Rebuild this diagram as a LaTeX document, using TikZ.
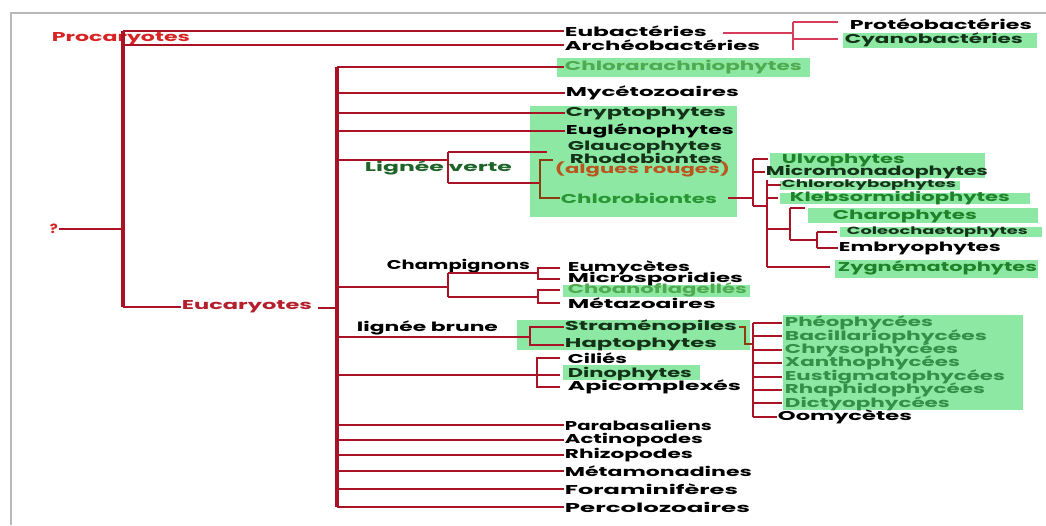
\documentclass[tikz,border=0pt]{standalone}
\usepackage{fontspec}
\setmainfont{Poppins}
\usepackage{graphicx}
\definecolor{lred}{RGB}{170,18,38}
\definecolor{lpink}{RGB}{215,60,90}
\definecolor{pred}{RGB}{215,35,35}
\definecolor{ered}{RGB}{180,30,45}
\definecolor{lgreen}{RGB}{140,232,162}
\definecolor{gtexta}{RGB}{80,170,80}
\definecolor{gtextb}{RGB}{40,150,50}
\definecolor{gtextc}{RGB}{30,130,40}
\definecolor{gtextd}{RGB}{50,145,70}
\definecolor{dgreen}{RGB}{30,100,40}
\definecolor{dark}{RGB}{20,50,25}
\definecolor{brn}{RGB}{140,60,15}
\definecolor{algc}{RGB}{185,85,30}
\newdimen\pxu \pxu=0.75pt
\newcommand\sw[2]{\resizebox{#1\pxu}{\height}{#2}}
\begin{document}
\begin{tikzpicture}[x=0.75pt,y=-0.75pt,
  lab/.style={inner sep=0.5pt, anchor=west, font=\fontsize{9.6}{10}\selectfont\bfseries, text=black},
  smalllab/.style={font=\fontsize{7.8}{9}\selectfont\bfseries},
  ln/.style={draw=lred, line width=1.6pt},
  vb/.style={draw=lred, line width=2.3pt},
  pk/.style={draw=lpink, line width=1.2pt},
  bl/.style={draw=brn, line width=1.6pt},
  gbox/.style={fill=lgreen}]
\useasboundingbox (0,0) rectangle (1046,525);
\fill[white] (0,0) rectangle (1046,525);
\draw[gray!55, line width=1.2pt] (11,525) -- (11,13) -- (1046,13);

% green boxes
\fill[gbox] (843,33) rectangle (1037,48);
\fill[gbox] (557,58) rectangle (810,77);
\fill[gbox] (530,106) rectangle (737,217);
\fill[gbox] (770,153) rectangle (985,178);
\fill[gbox] (780,181) rectangle (960,190);
\fill[gbox] (780,193) rectangle (1030,204);
\fill[gbox] (808,208) rectangle (1038,223);
\fill[gbox] (840,227) rectangle (1042,237);
\fill[gbox] (835,260) rectangle (1038,278);
\fill[gbox] (563,285) rectangle (750,297);
\fill[gbox] (517,320) rectangle (750,350);
\fill[gbox] (563,365) rectangle (700,380);
\fill[gbox] (783,315) rectangle (1023,410);

% labels
\node[lab,text=pred] (pro) at (51,39) {\sw{138}{Procaryotes}};
\node[lab] (eub) at (564,31) {\sw{142}{Eubactéries}};
\node[lab] (arc) at (564,45) {\sw{195}{Archéobactéries}};
\node[lab] (prot) at (849,24) {\sw{182}{Protéobactéries}};
\node[lab,text=dark] (cya) at (844,40) {\sw{178}{Cyanobactéries}};
\node[lab,text=pred] (q) at (49,229) {\sw{8}{?}};
\node[lab,text=ered] (euc) at (181,307) {\sw{130}{Eucaryotes}};
\node[lab,text=gtexta] (chl) at (564,67) {\sw{237}{Chlorarachniophytes}};
\node[lab] (myc) at (565,93) {\sw{173}{Mycétozoaires}};
\node[lab,text=dark] (cry) at (565,113) {\sw{160}{Cryptophytes}};
\node[lab] (eug) at (565,131) {\sw{168}{Euglénophytes}};
\node[lab,text=dark] (gla) at (567,147) {\sw{154}{Glaucophytes}};
\node[lab,text=dark] (rho) at (569,158) {\sw{153}{Rhodobiontes}};
\node[lab,text=algc] (alg) at (554,169) {\sw{175}{(algues rouges)}};
\node[lab,text=gtextb] (chb) at (560,198) {\sw{156}{Chlorobiontes}};
\node[lab,text=dgreen] (lv) at (364,168) {\sw{147}{Lignée verte}};
\node[lab,text=gtextc] (ulv) at (781,160) {\sw{123}{Ulvophytes}};
\node[lab,text=dark] (mic) at (765,172) {\sw{222}{Micromonadophytes}};
\node[lab,smalllab,text=dark] (chk) at (781,185) {\sw{174}{Chlorokybophytes}};
\node[lab,text=gtextc] (kle) at (789,198) {\sw{220}{Klebsormidiophytes}};
\node[lab,text=gtextc] (cha) at (832,216) {\sw{144}{Charophytes}};
\node[lab,smalllab,text=dark] (col) at (846,232) {\sw{181}{Coleochaetophytes}};
\node[lab] (emb) at (838,248) {\sw{162}{Embryophytes}};
\node[lab,text=gtextc] (zyg) at (837,268) {\sw{199}{Zygnématophytes}};
\node[lab] (chp) at (386,266) {\sw{143}{Champignons}};
\node[lab] (eum) at (567,268) {\sw{122}{Eumycètes}};
\node[lab] (mis) at (567,279) {\sw{175}{Microsporidies}};
\node[lab,text=gtexta] (cho) at (567,290) {\sw{179}{Choanoflagellés}};
\node[lab] (met) at (567,303) {\sw{148}{Métazoaires}};
\node[lab] (lb) at (356,328) {\sw{141}{lignée brune}};
\node[lab,text=dark] (str) at (564,327) {\sw{172}{Straménopiles}};
\node[lab,text=dark] (hap) at (564,344) {\sw{152}{Haptophytes}};
\node[lab] (cil) at (567,358) {\sw{59}{Ciliés}};
\node[lab,text=dark] (din) at (567,374) {\sw{124}{Dinophytes}};
\node[lab] (api) at (567,387) {\sw{173}{Apicomplexés}};
\node[lab,text=gtextd] (phe) at (784,323) {\sw{148}{Phéophycées}};
\node[lab,text=gtextd] (bac) at (784,336.4) {\sw{202}{Bacillariophycées}};
\node[lab,text=gtextd] (chr) at (784,349.8) {\sw{173}{Chrysophycées}};
\node[lab,text=gtextd] (xan) at (784,363.2) {\sw{175}{Xanthophycées}};
\node[lab,text=gtextd] (eus) at (784,376.6) {\sw{220}{Eustigmatophycées}};
\node[lab,text=gtextd] (rha) at (784,390) {\sw{200}{Rhaphidophycées}};
\node[lab,text=gtextd] (dic) at (784,403.4) {\sw{165}{Dictyophycées}};
\node[lab] (oom) at (777,416.8) {\sw{134}{Oomycètes}};
\node[lab] (par) at (564,425) {\sw{147}{Parabasaliens}};
\node[lab] (act) at (564,440) {\sw{138}{Actinopodes}};
\node[lab] (rhi) at (564,455) {\sw{128}{Rhizopodes}};
\node[lab] (mtm) at (564,471) {\sw{187}{Métamonadines}};
\node[lab] (fora) at (564,489) {\sw{173}{Foraminifères}};
\node[lab] (per) at (564,507) {\sw{185}{Percolozoaires}};

% root tree
\coordinate (pb) at (123,0);
\coordinate (pbt) at (123,31);
\coordinate (pbb) at (123,307);
\draw[vb] (pbt) -- (pbb);
\draw[ln] (pbt) -- (eub.west);
\draw[ln] (pb |- arc.west) -- (arc.west);
\draw[ln] (pbb) -- (euc.west);
\draw[ln] (q.east) -- (pb |- q.east);

% bacteria bracket
\coordinate (bj) at (723,33);
\coordinate (bv) at (793,33);
\coordinate (bvt) at (793,22);
\coordinate (bvb) at (793,50);
\coordinate (bpt) at (838,22);
\coordinate (bct) at (838,39);
\draw[pk] (bj) -- (bv);
\draw[pk] (bvt) -- (bvb);
\draw[pk] (bvt) -- (bpt);
\draw[pk] (bvt |- bct) -- (bct);

% eukaryote bar
\coordinate (eb) at (337,0);
\coordinate (ebt) at (337,67);
\coordinate (ebb) at (337,507);
\coordinate (ej) at (337,308);
\draw[ln] ([xshift=4pt]euc.east |- ej) -- (ej);
\draw[vb] (ebt) -- (ebb);
\foreach \n in {chl,myc,cry,eug,par,act,rhi,mtm,fora,per}
  \draw[ln] (eb |- \n.west) -- (\n.west);

% lignee verte
\coordinate (lvj) at (448,160);
\coordinate (lvt) at (448,152);
\coordinate (lvb) at (448,183);
\coordinate (glt) at (547,152);
\coordinate (rbj) at (540,183);
\coordinate (rbt) at (540,160);
\coordinate (rbte) at (553,160);
\coordinate (rbb) at (540,198);
\draw[ln] (eb |- lvj) -- (lvj);
\draw[ln] (lvt) -- (lvb);
\draw[ln] (lvt) -- (glt);
\draw[ln] (lvb) -- (rbj);
\draw[bl] (rbte) -- (rbt) -- (rbb) -- (chb.west);

% chlorobiontes subtree
\coordinate (cbs) at (728,198);
\coordinate (va) at (753,198);
\coordinate (vat) at (753,159);
\coordinate (vab) at (753,206);
\coordinate (ulvt) at (768,159);
\coordinate (vbt) at (767,180);
\coordinate (vbb) at (767,267);
\coordinate (vbj) at (767,206);
\coordinate (klt) at (778,198);
\coordinate (vcj) at (767,229);
\coordinate (vct) at (790,208);
\coordinate (vcb) at (790,240);
\coordinate (cht) at (805,208);
\coordinate (vdt) at (817,232);
\coordinate (vdb) at (817,248);
\coordinate (colt) at (837,232);
\coordinate (zygt) at (830,267);
\draw[ln] (cbs) -- (va);
\draw[ln] (vat) -- (vab);
\draw[ln] (vat) -- (ulvt);
\draw[ln] (vat |- mic.west) -- (mic.west);
\draw[ln] (vab) -- (vbj);
\draw[ln] (vbt) -- (vbb);
\draw[ln] (vbt |- chk.west) -- (chk.west);
\draw[ln] (vbt |- klt) -- (klt);
\draw[ln] (vcj) -- (vct |- vcj);
\draw[ln] (vbb) -- (zygt);
\draw[ln] (vct) -- (vcb);
\draw[ln] (vct) -- (cht);
\draw[ln] (vcb) -- (vdt |- vcb);
\draw[ln] (vdt) -- (vdb);
\draw[ln] (vdt) -- (colt);
\draw[ln] (vdb) -- (emb.west);

% champignons
\coordinate (chj) at (448,287);
\coordinate (cht2) at (448,273);
\coordinate (chb2) at (448,297);
\coordinate (bra) at (538,273);
\coordinate (brb) at (538,297);
\draw[ln] (eb |- chj) -- (chj);
\draw[ln] (cht2) -- (chb2);
\draw[ln] (cht2) -- (bra);
\draw[ln] (chb2) -- (brb);
\draw[ln] (560,268) -- (538,268) -- (538,279) -- (560,279);
\draw[ln] (560,290) -- (538,290) -- (538,303) -- (560,303);

% lignee brune
\coordinate (lbj) at (530,337);
\draw[ln] (eb |- lbj) -- (lbj);
\draw[ln] (str.west) -- (530,327) -- (530,345) -- (hap.west |- 530,345);
\coordinate (sbv) at (753,323);
\coordinate (sbb) at (753,416.8);
\draw[bl] ([xshift=1pt]str.east) -- (745,327) -- (745,344) -- (753,344);
\draw[ln] (sbv) -- (sbb);
\foreach \n in {phe,bac,chr,xan,eus,rha,dic}
  \draw[ln] (sbv |- \n.west) -- ([xshift=-1.5pt]\n.west);
\draw[ln] (sbb) -- (oom.west);

% cilies
\coordinate (cij) at (560,375);
\draw[ln] (eb |- cij) -- (cij);
\draw[ln] (560,358) -- (537,358) -- (537,387) -- (560,387);
\end{tikzpicture}
\end{document}
